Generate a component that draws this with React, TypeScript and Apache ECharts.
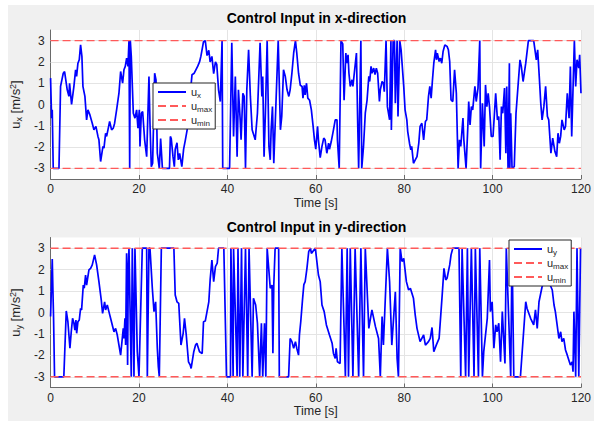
import React, { useEffect, useRef } from 'react';
import * as echarts from 'echarts';

// [time s, u_x m/s^2]
const uxSamples: [number, number][] = [
  [0,1.24],[0.23,-0.64],[0.38,-0.25],[0.6,-3],[1.9,-3],[2.26,0.85],[2.87,1.47],[3.17,1.55],[3.77,0.69],[4.15,0.38],[4.3,1.0],[4.75,0],[5.28,0.85],[5.66,1.63],[5.89,1.32],[6.19,1.94],[6.49,2.1],[6.79,2.8],[7.09,2.26],[7.32,0.85],[7.77,0.38],[8.15,-0.72],[8.45,-0.25],[8.9,-0.49],[9.43,-0.88],[9.81,-1.19],[10.26,-1.03],[10.72,-1.5],[10.94,-1.66],[11.32,-2.68],[11.85,-1.97],[12.08,-2.05],[12.45,-1.35],[12.68,-1.5],[13.06,-1.11],[13.36,-0.8],[13.81,-1.19],[14.19,-1.11],[14.49,-0.88],[14.94,-0.25],[15.47,0.53],[15.85,1.55],[16.3,1.0],[16.6,1.63],[16.9,1.79],[17.21,2.18],[17.51,1.79],[17.74,3],[17.9,-3],[18.04,3],[18.26,2.26],[18.72,-0.41],[19.09,-0.64],[19.47,-0.25],[19.77,-1.11],[20.08,-0.25],[20.23,-1.97],[20.53,-0.41],[20.83,-0.33],[21.28,-1.66],[21.74,-2.45],[22.26,1.32],[22.49,-0.88],[22.79,-2.92],[23.09,-2.76],[23.55,1.47],[23.85,1.16],[24.15,-2.29],[24.6,-3],[24.9,-1.6],[25.3,-3],[26.9,-3],[27.1,-1.5],[27.3,-1.6],[27.7,-2.45],[28.0,-2.92],[28.2,-2.1],[28.6,-1.8],[28.9,-2.6],[29.2,-2.3],[29.7,-2.92],[30.1,-2.1],[30.5,-1.66],[30.9,-1.19],[31.2,-0.4],[31.6,0.5],[32.0,1.4],[32.5,1.47],[33.3,1.8],[33.7,2.0],[34.0,2.26],[34.3,2.6],[34.6,2.95],[35.0,3.0],[35.4,2.3],[35.8,2.55],[36.1,2.0],[36.5,2.26],[36.9,1.45],[37.3,2.0],[37.6,1.88],[38.0,0.69],[38.4,0.14],[38.8,3.0],[38.95,-3],[40.5,-3],[41.0,2.9],[41.4,-1.5],[41.8,1.32],[42.2,-2.45],[42.5,0.69],[42.9,-0.72],[43.1,-1.66],[43.5,0.53],[43.8,0.38],[44.1,-3],[44.4,0.69],[44.8,2.57],[45.2,0.38],[45.6,-1.19],[46.3,-1.66],[46.8,-0.41],[47.4,2.9],[47.8,0.38],[48.0,1.32],[48.3,-2.45],[48.6,-0.41],[49.0,3.0],[49.4,-1.97],[49.7,-2.6],[49.9,-1.19],[50.2,-0.1],[50.5,-2.76],[51.5,3.0],[52.0,-1.19],[52.3,-0.56],[52.7,1.63],[53.1,1.32],[53.5,0.69],[53.9,0.38],[54.2,0.69],[54.6,1.47],[55.0,2.42],[55.4,3.0],[55.7,2.42],[56.1,1.47],[56.5,0.9],[56.9,0.85],[57.1,0.3],[57.4,0.9],[57.6,0.45],[57.9,1.0],[58.2,0.3],[58.6,0.2],[59.0,-0.25],[59.4,-1.03],[59.7,-1.66],[60.0,-2.1],[60.4,-1.03],[60.6,-1.66],[61.0,-2.5],[61.4,-1.97],[61.8,-1.58],[62.1,-1.66],[62.5,-2.29],[62.9,-1.82],[63.1,-2.1],[63.5,-1.74],[64.0,-1.19],[64.4,-0.72],[64.8,-0.72],[64.9,-1.66],[65.3,-3],[65.7,3],[66.1,2.85],[66.4,0.2],[66.8,2.42],[67.0,1.94],[67.3,2.33],[67.5,1.47],[67.8,0.85],[68.2,1.16],[68.4,0.85],[69.2,2.42],[69.5,-1.03],[69.7,-3],[69.9,-0.64],[70.2,3],[70.4,-3],[70.8,-1.97],[71.2,-0.41],[71.6,0.2],[72.0,1.32],[72.2,1.08],[72.5,1.79],[72.7,1.47],[73.1,1.71],[73.4,1.4],[73.7,1.71],[74.0,1.47],[74.4,0.14],[74.6,0.69],[75.0,1.08],[75.3,1.0],[75.5,0.6],[75.9,3],[76.2,-0.1],[76.7,-0.72],[77.0,3],[77.1,-1.2],[77.5,3],[77.8,3],[78.0,0.06],[78.4,3],[78.6,-0.56],[79.0,3],[79.3,2.57],[79.9,0.85],[80.2,-0.25],[80.6,-0.72],[80.8,-1.27],[81.2,-1.82],[81.5,-2.13],[81.7,-1.97],[82.1,-2.76],[82.5,-2.6],[82.9,-2.45],[83.3,-1.82],[83.6,-1.03],[84.0,-0.88],[84.4,-1.66],[84.8,-0.8],[85.1,-0.72],[85.5,0.38],[85.8,0.85],[86.1,0.3],[86.4,1.16],[86.7,1.94],[87.1,2.57],[87.3,2.1],[87.5,2.41],[87.9,2.02],[88.2,2.18],[88.5,1.94],[88.8,2.49],[89.2,2.8],[89.7,2.73],[90.0,2.57],[90.3,2.02],[90.6,0.22],[91.0,0.14],[91.4,1.63],[91.8,0.53],[92.2,-3],[92.5,-1.66],[92.8,-1.97],[93.3,-0.64],[93.5,-1.66],[94.0,-3],[94.4,-1.03],[94.6,0.14],[94.9,-0.96],[95.2,-0.1],[95.5,-0.25],[96.0,0.85],[96.3,0.14],[96.7,0.77],[97.1,3],[97.3,-3],[97.7,0.06],[98.1,-1.97],[98.4,0.92],[98.7,-0.1],[99.0,0.53],[99.3,-0.1],[99.7,-1.5],[100.1,-1.5],[100.7,0.53],[101.1,-0.72],[101.4,-0.56],[101.7,-2.6],[102.0,-0.1],[102.3,-0.41],[102.7,0.77],[103.0,-2.29],[103.2,0.85],[103.5,-3],[103.8,1.94],[103.9,-3],[104.1,-0.41],[104.4,-3],[104.9,-2.92],[105.3,-0.41],[105.8,1.0],[106.2,2.1],[106.5,1.79],[106.9,1.08],[107.5,1.94],[108.1,3],[109.3,3],[109.9,2.1],[110.2,2.57],[110.6,1.16],[110.9,0.06],[111.2,-0.72],[111.6,-0.1],[112.0,0.85],[112.4,-0.56],[112.7,-0.72],[113.2,-2.29],[113.6,-1.58],[114.1,-2.21],[114.5,-2.45],[114.8,-1.35],[115.1,-1.82],[115.4,-1.5],[115.7,-0.72],[116.2,-1.19],[116.5,-1.03],[116.9,0.53],[117.3,-0.64],[117.6,1.79],[117.9,-1.5],[118.5,3],[118.8,0.85],[119.1,2.1],[119.5,1.71],[119.7,2.34],[120,0.53]
];

// [time s, u_y m/s^2]
const uySamples: [number, number][] = [
  [0,-0.19],[0.38,2.5],[0.53,1.05],[0.68,-0.27],[0.9,-3],[3.0,-3],[3.55,0.07],[3.92,-0.43],[4.38,-1.67],[4.68,-0.9],[4.98,-0.27],[5.28,-0.5],[5.5,-0.82],[5.74,-0.35],[5.9,-0.97],[6.19,-0.43],[6.49,-0.35],[6.79,0.19],[7.02,0.12],[7.4,1.28],[7.62,1.13],[7.92,1.75],[8.15,1.28],[8.68,1.99],[9.06,2.06],[9.43,2.22],[9.96,2.69],[10.42,2.22],[10.94,1.44],[11.47,0.58],[11.77,-0.04],[12.23,0.5],[12.45,0.12],[12.83,0.35],[13.2,0.04],[13.58,-0.27],[14.34,-0.9],[14.72,-0.74],[15.09,-1.05],[15.47,-1.52],[15.85,-1.99],[16.15,-1.36],[16.45,-0.74],[16.6,-1.21],[16.83,-0.27],[16.98,-1.52],[17.2,2.76],[17.43,-2.45],[17.58,2.14],[17.74,3],[18.26,-3],[18.49,3],[18.87,-3],[19.09,3],[19.62,-1.83],[20.0,-3],[20.75,3],[21.74,3],[21.89,-3],[22.26,3],[22.49,3],[23.02,1.13],[23.4,0.04],[23.77,0.5],[24.15,-1.67],[24.38,-2.53],[24.6,-3],[25.06,3],[27.9,3],[28.2,0.82],[28.6,0.5],[29.0,0.43],[29.5,-1.52],[30.0,-0.97],[30.3,-0.27],[30.7,-1.05],[31.2,-2.3],[31.6,-2.45],[31.8,-2.61],[32.4,-1.83],[32.8,-1.52],[33.1,-1.44],[33.7,-1.83],[34.3,-1.91],[34.6,-0.43],[35.0,-0.4],[35.8,0.5],[36.1,1.52],[36.5,2.45],[36.9,1.44],[37.3,2.14],[37.7,2.3],[38.0,3],[39.2,3],[39.8,-3],[40.7,-3],[40.8,3],[41.3,-3],[41.4,3],[42.2,-3],[42.4,3],[42.8,-3],[43.2,3],[43.5,-3],[44.1,3],[44.6,-3],[44.9,3],[45.6,-3],[45.9,0.66],[46.4,0.35],[46.8,-0.5],[47.3,-3],[47.7,-0.5],[48.0,-3],[48.4,-0.5],[48.7,-3],[49.0,3],[49.7,1.13],[50.1,1.28],[50.3,-1.9],[50.5,1.28],[50.8,3],[51.6,3],[51.75,-3],[53.85,-3],[54.2,-1.21],[54.6,-1.36],[55.0,-1.67],[55.4,-1.36],[55.7,-1.67],[56.1,-1.99],[56.3,-1.05],[56.6,-0.43],[57.0,0.6],[57.3,1.3],[57.6,1.44],[58.0,2.06],[58.2,2.45],[58.4,2.84],[58.8,3],[59.0,2.76],[59.9,3],[60.6,1.75],[61.0,1.44],[61.4,0.35],[61.9,0.04],[62.4,-0.58],[63.1,-1.05],[63.7,-1.44],[64.0,-1.91],[64.4,-2.14],[64.6,-1.67],[64.9,-2.3],[65.5,-2.38],[65.9,3],[66.7,-3],[67.1,3],[67.4,-3],[67.8,3],[68.4,-3],[68.9,3],[69.7,-3],[70.2,3],[70.8,-3],[71.2,3],[72.0,-0.74],[72.7,0.12],[73.5,-0.66],[74.2,-1.21],[74.6,-3],[75.0,-0.19],[75.3,-1.52],[76.2,3],[76.7,1.44],[77.2,-1.52],[78.0,0.97],[78.4,-2.14],[78.7,-3],[79.1,3],[79.5,2.38],[79.9,2.53],[80.5,1.44],[81.0,1.05],[81.4,1.13],[82.1,0.66],[82.5,-0.12],[82.9,-0.74],[83.6,-1.36],[84.4,-1.05],[84.8,-1.52],[85.5,-1.36],[85.9,-1.21],[86.3,-0.7],[86.7,-1.83],[87.3,-1.5],[87.9,-1.21],[88.6,0.82],[89.0,2.06],[89.4,1.52],[89.7,1.6],[90.3,2.22],[90.6,2.69],[91.0,3],[92.4,3],[92.8,-3],[93.1,3],[93.9,-3],[94.3,3],[94.6,-3],[95.2,3],[95.8,-3],[96.1,3],[96.8,-3],[97.1,3],[97.7,-3],[98.0,-1.83],[98.8,-0.27],[99.3,2.45],[99.5,0.04],[99.9,0.5],[100.3,-1.67],[100.7,-0.58],[101.0,-0.9],[101.4,-0.5],[101.8,-2.3],[102.2,0.04],[102.8,-2.38],[103.1,3],[104.1,-3],[104.4,3],[104.8,-3],[106.3,-3],[107.5,0.5],[107.8,0.19],[108.6,-0.27],[109.3,-0.58],[109.7,0.12],[110.1,-0.74],[110.5,0.5],[111.2,1.2],[112.0,1.6],[112.8,1.4],[113.5,1.05],[113.9,0.35],[114.2,0.04],[114.6,-0.58],[115.0,-1.21],[115.4,-0.9],[115.7,-1.36],[116.1,-1.21],[116.5,-1.75],[116.9,-1.99],[117.6,-2.45],[118.0,-2.3],[118.2,-2.76],[118.4,0.04],[118.8,-3],[119.1,3],[119.5,-3],[119.9,3],[120,3]
];

const xTicks = [0, 20, 40, 60, 80, 100, 120];
const yTicks = [-3, -2, -1, 0, 1, 2, 3];
const uMax = 3;
const uMin = -3;
const tStart = 0;
const tEnd = 120;
const titles = ['Control Input in x-direction', 'Control Input in y-direction'];
const xAxisLabel = 'Time [s]';

const FONT = 'Arial, "Liberation Sans", Helvetica, sans-serif';
const BLUE = '#0000ff';
const RED = '#ff5a5a';
const GRIDC = '#e4e4e4';
const TXT = '#262626';

const legendText: Record<string, string> = {
  ux: '{u|u}{s|x}',
  uy: '{u|u}{s|y}',
  umax1: '{u|u}{s|max}',
  umin1: '{u|u}{s|min}',
  umax2: '{u|u}{s|max}',
  umin2: '{u|u}{s|min}',
};

export default function App() {
  const ref = useRef<HTMLDivElement>(null);
  useEffect(() => {
    const chart = echarts.init(ref.current!, null, { renderer: 'svg' });
    const grids = [
      { left: 50, top: 30, width: 533, height: 149 },
      { left: 50, top: 237.5, width: 533, height: 150 },
    ];
    const mkX = (i: number) => ({
      type: 'value', gridIndex: i, min: tStart, max: tEnd, interval: 20,
      axisLine: { show: true, onZero: false, lineStyle: { color: '#6a6a6a', width: 1 } },
      axisTick: { show: true, inside: true, length: 4, lineStyle: { color: '#6a6a6a' } },
      axisLabel: { fontSize: 12, color: TXT, fontFamily: FONT, margin: 4, customValues: xTicks },
      splitLine: { show: true, lineStyle: { color: GRIDC, width: 1 } },
      name: xAxisLabel, nameLocation: 'middle', nameGap: 17,
      nameTextStyle: { fontSize: 12.5, color: TXT, fontFamily: FONT },
    });
    const mkY = (i: number, sub: string) => ({
      type: 'value', gridIndex: i, min: -3.5, max: 3.5,
      axisLine: { show: true, onZero: false, lineStyle: { color: '#6a6a6a', width: 1 } },
      axisTick: { show: true, inside: true, length: 4, customValues: yTicks, lineStyle: { color: '#6a6a6a' } },
      axisLabel: { fontSize: 12, color: TXT, fontFamily: FONT, margin: 6, customValues: yTicks },
      splitLine: { show: false },
      name: `{u|u}{s|${sub}}{u| [m/s}{p|2}{u|]}`,
      nameLocation: 'middle', nameGap: 23, nameRotate: 90,
      nameTextStyle: {
        fontSize: 13, color: TXT, fontFamily: FONT,
        rich: {
          u: { fontSize: 13, color: TXT, fontFamily: FONT, lineHeight: 15 },
          s: { fontSize: 9, color: TXT, fontFamily: FONT, lineHeight: 9, padding: [6, 0, 0, 0] },
          p: { fontSize: 9, color: TXT, fontFamily: FONT, lineHeight: 9, padding: [0, 0, 6, 0] },
        },
      },
    });
    const gridSeries = (i: number) => ({
      type: 'line', name: 'grid' + i, xAxisIndex: i, yAxisIndex: i, data: [], symbol: 'none', silent: true, z: 1,
      markLine: {
        silent: true, symbol: 'none', label: { show: false }, animation: false, z: 1,
        lineStyle: { color: GRIDC, width: 1, type: 'solid' },
        data: yTicks.map((v) => ({ yAxis: v })),
      },
    });
    const dataSeries = (i: number, name: string, d: [number, number][]) => ({
      type: 'line', name, xAxisIndex: i, yAxisIndex: i, data: d, symbol: 'none', showSymbol: false,
      lineStyle: { color: BLUE, width: 1.7 }, itemStyle: { color: BLUE }, z: 3,
    });
    const limSeries = (i: number, name: string, v: number) => ({
      type: 'line', name, xAxisIndex: i, yAxisIndex: i, data: [[tStart, v], [tEnd, v]], symbol: 'none', showSymbol: false,
      lineStyle: { color: RED, width: 1.4, type: [8, 4] }, itemStyle: { color: RED }, z: 4,
    });
    const mkLegend = (left: number, top: number, names: string[]) => ({
      orient: 'vertical', left, top, data: names, selectedMode: false, z: 10,
      formatter: (n: string) => legendText[n],
      backgroundColor: '#ffffff', borderColor: '#262626', borderWidth: 1, borderRadius: 0,
      padding: [2, 3, 2, 4], itemGap: 0, itemWidth: 28, itemHeight: 12,
      itemStyle: { opacity: 0 },
      textStyle: {
        fontSize: 11, color: TXT, fontFamily: FONT,
        rich: {
          u: { fontSize: 11, color: TXT, fontFamily: FONT, lineHeight: 12 },
          s: { fontSize: 8, color: TXT, fontFamily: FONT, lineHeight: 8, padding: [6, 0, 0, 0] },
        },
      },
    });
    const option: any = {
      animation: false,
      backgroundColor: 'transparent',
      grid: grids.map((g) => ({ ...g, show: true, backgroundColor: '#ffffff', borderWidth: 0, containLabel: false })),
      xAxis: [mkX(0), mkX(1)],
      yAxis: [mkY(0, 'x'), mkY(1, 'y')],
      legend: [
        mkLegend(153, 83, ['ux', 'umax1', 'umin1']),
        mkLegend(509, 240, ['uy', 'umax2', 'umin2']),
      ],
      graphic: [
        { type: 'text', x: 316.5, y: 18, silent: true, style: { text: titles[0], textAlign: 'center', textVerticalAlign: 'middle', font: `bold 14px ${FONT}`, fill: '#000' } },
        { type: 'text', x: 316.5, y: 227, silent: true, style: { text: titles[1], textAlign: 'center', textVerticalAlign: 'middle', font: `bold 14px ${FONT}`, fill: '#000' } },
      ],
      series: [
        gridSeries(0), gridSeries(1),
        dataSeries(0, 'ux', uxSamples),
        limSeries(0, 'umax1', uMax),
        limSeries(0, 'umin1', uMin),
        dataSeries(1, 'uy', uySamples),
        limSeries(1, 'umax2', uMax),
        limSeries(1, 'umin2', uMin),
      ],
    };
    chart.setOption(option);
    return () => chart.dispose();
  }, []);
  return (
    <div style={{ position: 'fixed', left: 0, top: 0, width: 594, height: 421, background: '#ffffff' }}>
      <div style={{ position: 'absolute', left: 8, top: 5, right: 0, bottom: 0, background: '#f0f0f0' }} />
      <div ref={ref} style={{ position: 'absolute', left: 0, top: 0, width: 594, height: 421 }} />
    </div>
  );
}
